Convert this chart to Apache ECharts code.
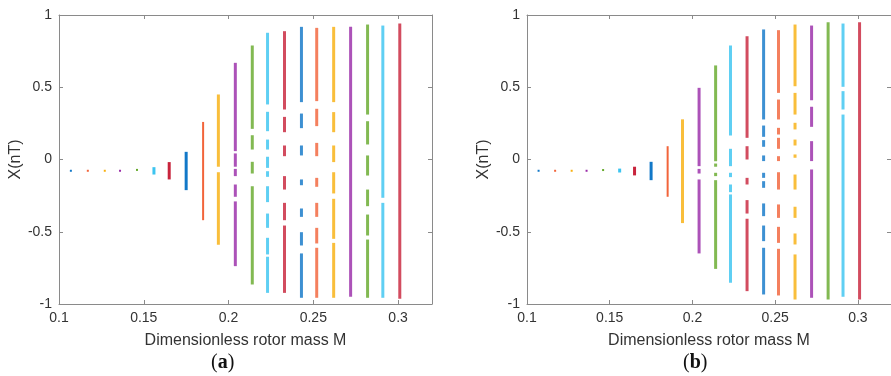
<!DOCTYPE html>
<html>
<head>
<meta charset="utf-8">
<script src="https://cdn.jsdelivr.net/npm/echarts@6/dist/echarts.min.js"></script>
<style>
html, body { margin: 0; padding: 0; background: #fff; }
#main { width: 891px; height: 376px; }
</style>
</head>
<body>
<div id="main"></div>
<script>
// rotor mass values (one column of points per value)
var massM = [0.107, 0.117, 0.127, 0.136, 0.146, 0.156, 0.165, 0.175, 0.185, 0.194, 0.204,
	0.214, 0.223, 0.233, 0.243, 0.252, 0.262, 0.272, 0.282, 0.291, 0.301];

// MATLAB-like colour order, column i uses colorOrder[i % 7]
var colorOrder = ['#1278c8', '#f2643a', '#f8b010', '#9a2ca8', '#66aa2c', '#3cc4f0', '#c8243c'];

var xTicks = [0.1, 0.15, 0.2, 0.25, 0.3];
var yTicks = [-1, -0.5, 0, 0.5, 1];

// (a) occupied X(nT) ranges per column, [high, low]
var rangesA = [
	[[-0.078, -0.078]],
	[[-0.078, -0.078]],
	[[-0.078, -0.078]],
	[[-0.078, -0.078]],
	[[-0.072, -0.084]],
	[[-0.053, -0.104]],
	[[-0.018, -0.138]],
	[[0.053, -0.212]],
	[[0.26, -0.42]],
	[[0.45, -0.05], [-0.088, -0.59]],
	[[0.669, 0.058], [0.042, -0.05], [-0.065, -0.115], [-0.173, -0.258], [-0.29, -0.738]],
	[[0.789, 0.212], [0.168, 0.069], [-0.016, -0.097], [-0.185, -0.865]],
	[[0.877, 0.381], [0.33, 0.196], [0.138, 0.069], [0.019, -0.058], [-0.081, -0.12],
		[-0.185, -0.295], [-0.374, -0.473], [-0.542, -0.657], [-0.673, -0.923]],
	[[0.888, 0.346], [0.295, 0.189], [0.097, 0.023], [-0.115, -0.208], [-0.3, -0.42], [-0.457, -0.923]],
	[[0.918, 0.397], [0.318, 0.217], [0.097, 0.028], [-0.138, -0.178], [-0.339, -0.397],
		[-0.503, -0.595], [-0.65, -0.957]],
	[[0.911, 0.404], [0.351, 0.231], [0.115, 0.023], [-0.127, -0.189], [-0.3, -0.397],
		[-0.473, -0.581], [-0.611, -0.957]],
	[[0.918, 0.397], [0.328, 0.189], [0.097, -0.018], [-0.088, -0.235], [-0.272, -0.549], [-0.577, -0.957]],
	[[0.918, -0.95]],
	[[0.934, 0.311], [0.265, 0.104], [0.028, -0.111], [-0.208, -0.323], [-0.381, -0.526], [-0.554, -0.957]],
	[[0.927, -0.265], [-0.3, -0.957]],
	[[0.941, -0.964]]
];

// (b) occupied X(nT) ranges per column, [high, low]
var rangesB = [
	[[-0.078, -0.078]],
	[[-0.078, -0.078]],
	[[-0.078, -0.078]],
	[[-0.078, -0.078]],
	[[-0.073, -0.083]],
	[[-0.063, -0.09]],
	[[-0.05, -0.11]],
	[[-0.016, -0.143]],
	[[0.092, -0.258]],
	[[0.278, -0.44]],
	[[0.496, -0.046], [-0.065, -0.097], [-0.138, -0.65]],
	[[0.651, -0.012], [-0.028, -0.05], [-0.092, -0.115], [-0.143, -0.757]],
	[[0.789, 0.166], [0.074, -0.046], [-0.092, -0.122], [-0.173, -0.226], [-0.242, -0.853]],
	[[0.853, 0.15], [0.092, 0], [-0.127, -0.173], [-0.281, -0.374], [-0.41, -0.911]],
	[[0.9, 0.277], [0.235, 0.157], [0.134, 0.088], [0.028, -0.011], [-0.092, -0.127],
		[-0.15, -0.196], [-0.304, -0.392], [-0.457, -0.565], [-0.611, -0.934]],
	[[0.895, 0.461], [0.415, 0.277], [0.219, 0.173], [0.15, 0.074], [0.023, -0.011],
		[-0.088, -0.208], [-0.311, -0.404], [-0.466, -0.577], [-0.618, -0.941]],
	[[0.934, 0.507], [0.461, 0.311], [0.254, 0.208], [0.138, 0.097], [0.035, 0.012],
		[-0.104, -0.208], [-0.327, -0.404], [-0.512, -0.588], [-0.657, -0.969]],
	[[0.927, 0.41], [0.365, 0.226], [0.127, -0.011], [-0.069, -0.957]],
	[[0.95, -0.969]],
	[[0.941, 0.503], [0.473, 0.346], [0.311, -0.95]],
	[[0.95, -0.969]]
];

function eachItem(arr, fn) {
	for (var i = 0; i < arr.length; i++) {
		fn(i, arr[i]);
	}
}

function buildData(ranges) {
	var out = [];
	eachItem(ranges, function(i, segs) {
		eachItem(segs, function(j, s) {
			out.push([massM[i], s[0], s[1], i]);
		});
	});
	return out;
}

function renderColumn(params, api) {
	var idx = api.value(3);
	var top = api.coord([api.value(0), api.value(1)]);
	var bot = api.coord([api.value(0), api.value(2)]);
	var w = idx < 5 ? 2 : (idx == 8 ? 2 : 3);
	var h = Math.max(bot[1] - top[1], 2);
	return {
		type: 'rect',
		shape: { x: top[0] - w / 2, y: top[1] - (h > 2 ? 0 : 1), width: w, height: h },
		style: { fill: colorOrder[idx % 7], opacity: idx >= 9 ? 0.82 : 1 }
	};
}

var axisGray = '#8a8a8a';
var labelColor = '#333';

function xAxisPair(gridIndex) {
	return [{
		gridIndex: gridIndex,
		type: 'value',
		position: 'bottom',
		min: 0.1,
		max: 0.32,
		interval: 0.05,
		name: 'Dimensionless rotor mass M',
		nameLocation: 'middle',
		nameGap: 29,
		nameTextStyle: { fontFamily: 'Liberation Sans', fontSize: 16, color: labelColor },
		axisLine: { onZero: false, lineStyle: { color: axisGray, width: 1 } },
		axisTick: { inside: true, length: 4, lineStyle: { color: axisGray } },
		splitLine: { show: false },
		axisLabel: {
			showMaxLabel: false,
			margin: 7,
			fontFamily: 'Liberation Sans',
			fontSize: 14,
			color: labelColor,
			formatter: function(v) {
				for (var k = 0; k < xTicks.length; k++) {
					if (Math.abs(v - xTicks[k]) < 1e-6) return String(xTicks[k]);
				}
				return '';
			}
		}
	}, {
		gridIndex: gridIndex,
		type: 'value',
		position: 'top',
		min: 0.1,
		max: 0.32,
		interval: 0.05,
		axisLine: { onZero: false, lineStyle: { color: axisGray, width: 1 } },
		axisTick: { inside: true, length: 4, lineStyle: { color: axisGray } },
		axisLabel: { show: false },
		splitLine: { show: false }
	}];
}

function yAxisPair(gridIndex) {
	return [{
		gridIndex: gridIndex,
		type: 'value',
		position: 'left',
		min: -1,
		max: 1,
		interval: 0.5,
		name: 'X(nT)',
		nameLocation: 'middle',
		nameGap: 32,
		nameTextStyle: { fontFamily: 'Liberation Sans', fontSize: 16, color: labelColor },
		axisLine: { show: true, onZero: false, lineStyle: { color: axisGray, width: 1 } },
		axisTick: { show: true, inside: true, length: 4, lineStyle: { color: axisGray } },
		splitLine: { show: false },
		axisLabel: { margin: 7, fontFamily: 'Liberation Sans', fontSize: 14, color: labelColor }
	}, {
		gridIndex: gridIndex,
		type: 'value',
		position: 'right',
		min: -1,
		max: 1,
		interval: 0.5,
		axisLine: { show: true, onZero: false, lineStyle: { color: axisGray, width: 1 } },
		axisTick: { show: true, inside: true, length: 4, lineStyle: { color: axisGray } },
		axisLabel: { show: false },
		splitLine: { show: false }
	}];
}

var chart = echarts.init(document.getElementById('main'), null, { renderer: 'canvas' });

chart.setOption({
	animation: false,
	backgroundColor: '#fff',
	grid: [
		{ left: 59, top: 15, width: 373, height: 289 },
		{ left: 527, top: 15, width: 374, height: 289 }
	],
	xAxis: xAxisPair(0).concat(xAxisPair(1)),
	yAxis: yAxisPair(0).concat(yAxisPair(1)),
	series: [{
		type: 'custom',
		xAxisIndex: 0,
		yAxisIndex: 0,
		renderItem: renderColumn,
		encode: { x: 0, y: [1, 2] },
		data: buildData(rangesA)
	}, {
		type: 'custom',
		xAxisIndex: 2,
		yAxisIndex: 2,
		renderItem: renderColumn,
		encode: { x: 0, y: [1, 2] },
		data: buildData(rangesB)
	}],
	graphic: [{
		type: 'text',
		left: 211,
		top: 353,
		style: {
			text: '({a|a})',
			font: '20px "Liberation Serif"',
			fill: '#111',
			rich: { a: { fontFamily: 'Liberation Serif', fontWeight: 'bold', fontSize: 20, fill: '#111' } }
		}
	}, {
		type: 'text',
		left: 683,
		top: 353,
		style: {
			text: '({a|b})',
			font: '20px "Liberation Serif"',
			fill: '#111',
			rich: { a: { fontFamily: 'Liberation Serif', fontWeight: 'bold', fontSize: 20, fill: '#111' } }
		}
	}]
});
</script>
</body>
</html>
